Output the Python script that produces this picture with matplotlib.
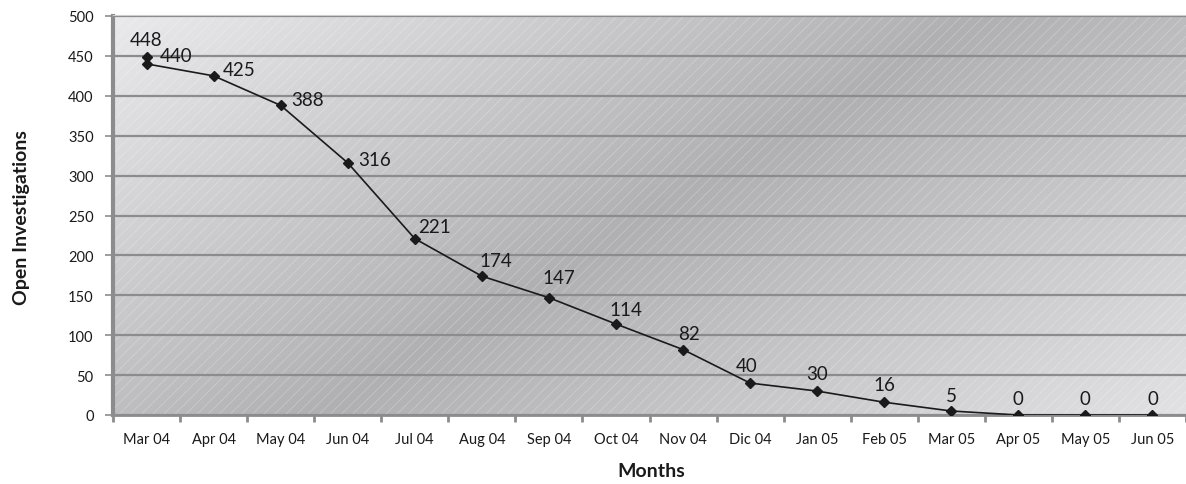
import matplotlib
matplotlib.use("Agg")
import matplotlib.pyplot as plt
import numpy as np
from matplotlib.patches import Rectangle

# data
months = ["Mar 04", "Apr 04", "May 04", "Jun 04", "Jul 04", "Aug 04", "Sep 04", "Oct 04",
          "Nov 04", "Dic 04", "Jan 05", "Feb 05", "Mar 05", "Apr 05", "May 05", "Jun 05"]
# the first month carries two readings (448 and 440)
point_month = [0, 0, 1, 2, 3, 4, 5, 6, 7, 8, 9, 10, 11, 12, 13, 14, 15]
open_cases = [448, 440, 425, 388, 316, 221, 174, 147, 114, 82, 40, 30, 16, 5, 0, 0, 0]

# label offsets in pixels (style only)
label_dx = [0, 30, 26, 27, 27, 20, 14, 10, 10, 6, -3, 0, 0, 0, 0, 0, 0]
label_dy = [18, 8, 6, 6, 3, 12, 16, 20, 15, 16, 18, 18, 18, 16, 16, 16, 16]

plt.rcParams['font.family'] = ['Lato', 'DejaVu Sans']
plt.rcParams['hatch.linewidth'] = 0.5

fig = plt.figure(figsize=(11.86, 4.85), dpi=100)
ax = fig.add_axes([113 / 1186, 1 - 416 / 485, 1 - 113 / 1186, (416 - 17) / 485])

n = len(months)
ax.set_xlim(-0.5, n - 0.5)
ax.set_ylim(0, 500)

# background gradient: light top-left, darker band across the middle, light bottom-right
W, H = 600, 240
xn = np.linspace(0, 1, W)[None, :]
yn = np.linspace(0, 1, H)[:, None]
t = 0.62 * xn + 0.38 * yn
grey = np.interp(t, [0.0, 0.5, 1.0], [234, 176, 226]) / 255.0
img = np.clip(np.dstack([grey, grey, grey * 1.012]), 0, 1)
ax.imshow(img, extent=(-0.5, n - 0.5, 0, 500), aspect='auto', origin='upper', zorder=0)

# fine diagonal texture
ax.add_patch(Rectangle((0, 0), 1, 1, transform=ax.transAxes, facecolor='none',
                       edgecolor=(1, 1, 1, 0.3), hatch='///', linewidth=0, zorder=0.5))

# grid
ax.set_yticks(np.arange(0, 501, 50))
ax.yaxis.grid(True, color='#8c8c8e', linewidth=1.6, zorder=1)
ax.set_axisbelow(False)

ax.plot(point_month, open_cases, color='#1a1a1a', linewidth=1.2, marker='D',
        markersize=5.5, markerfacecolor='#1a1a1a', markeredgecolor='#1a1a1a', zorder=3)

for i in range(len(open_cases)):
    ax.annotate(str(open_cases[i]), (point_month[i], open_cases[i]),
                xytext=(label_dx[i], label_dy[i]), textcoords='offset pixels',
                ha='center', va='center', fontsize=13.5, color='#1a1a1a', zorder=4)

# axes styling
ax.set_xticks(np.arange(n))
ax.set_xticklabels(months, fontsize=10.5, color='#1a1a1a')
ax.set_xticks(np.arange(-0.5, n, 1), minor=True)
ax.tick_params(axis='x', which='major', length=0, pad=12)
ax.tick_params(axis='x', which='minor', length=5, width=2, color='#8c8c8e')
ax.tick_params(axis='y', length=6, width=1.2, color='#8c8c8e', labelsize=10.5,
               labelcolor='#1a1a1a', pad=8)

ax.spines['left'].set_color('#8c8c8e')
ax.spines['left'].set_linewidth(3)
ax.spines['bottom'].set_color('#8c8c8e')
ax.spines['bottom'].set_linewidth(2)
ax.spines['top'].set_color('#cfcfd1')
ax.spines['top'].set_linewidth(1.5)
ax.spines['right'].set_visible(False)

fig.text(22 / 1186, 1 - 218 / 485, 'Open Investigations', rotation=90, ha='center',
         va='center', fontsize=14, fontweight='bold', color='#1a1a1a')
fig.text(651 / 1186, 1 - 472 / 485, 'Months', ha='center', va='center',
         fontsize=14, fontweight='bold', color='#1a1a1a')

fig.savefig('out.png', dpi=100)
